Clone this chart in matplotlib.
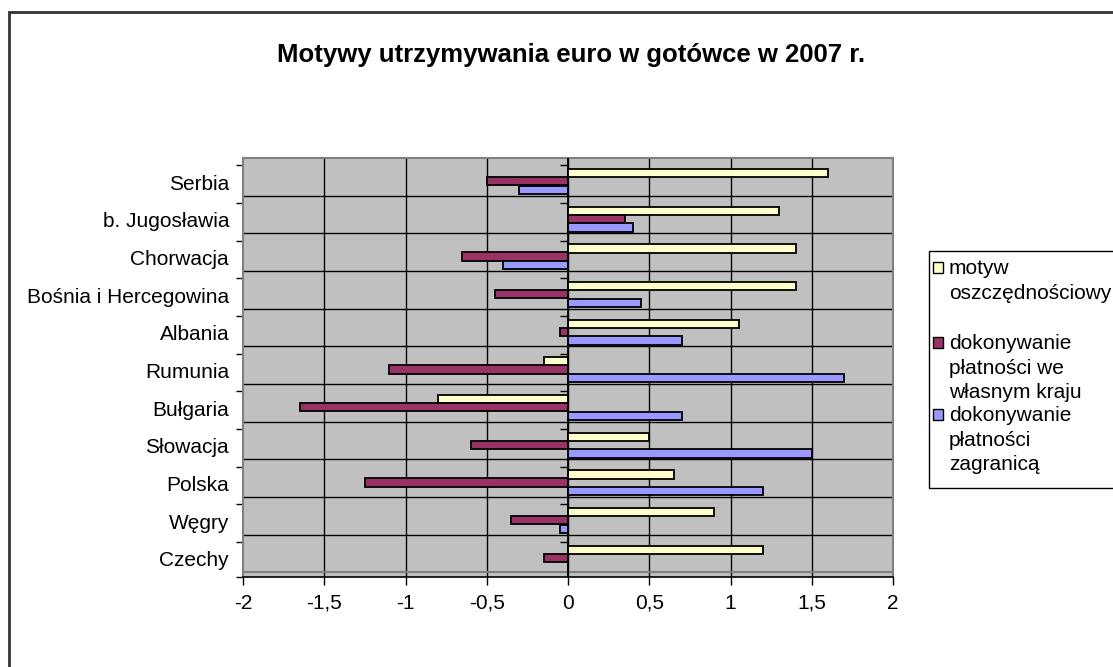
import matplotlib.pyplot as plt
import matplotlib.patches as patches
import numpy as np

# Dane (od dołu wykresu do góry)
kraje = ['Czechy', 'Węgry', 'Polska', 'Słowacja', 'Bułgaria', 'Rumunia',
         'Albania', 'Bośnia i Hercegowina', 'Chorwacja', 'b. Jugosławia', 'Serbia']
oszczednosci = [1.20, 0.90, 0.65, 0.50, -0.80, -0.15, 1.05, 1.40, 1.40, 1.30, 1.60]
platnosci_kraj = [-0.15, -0.35, -1.25, -0.60, -1.65, -1.10, -0.05, -0.45, -0.65, 0.35, -0.50]
platnosci_zagr = [0.0, -0.05, 1.20, 1.50, 0.70, 1.70, 0.70, 0.45, -0.40, 0.40, -0.30]
x_ticks = [-2, -1.5, -1, -0.5, 0, 0.5, 1, 1.5, 2]
x_labels = ['-2', '-1,5', '-1', '-0,5', '0', '0,5', '1', '1,5', '2']

legenda = ['motyw\noszczędnościowy',
           'dokonywanie\npłatności we\nwłasnym kraju',
           'dokonywanie\npłatności\nzagranicą']
kolory = ['#FFFFCC', '#993366', '#9999FF']

plt.rcParams['font.family'] = ['Liberation Sans', 'DejaVu Sans']

fig = plt.figure(figsize=(11.13, 6.67), dpi=100)
ax = fig.add_axes([243/1113, 1 - 577/667, (893-243)/1113, (577-158)/667])
ax.set_facecolor('#C0C0C0')

y = np.arange(len(kraje))
h = 0.22
ax.barh(y + 0.60, oszczednosci, height=h, color=kolory[0], edgecolor='black', lw=1.3, zorder=3)
ax.barh(y + 0.385, platnosci_kraj, height=h, color=kolory[1], edgecolor='black', lw=1.3, zorder=3)
ax.barh(y + 0.155, platnosci_zagr, height=h, color=kolory[2], edgecolor='black', lw=1.3, zorder=3)

ax.set_xlim(-2, 2)
ax.set_ylim(-0.12, 11)

# siatka
for xv in x_ticks[1:-1]:
    ax.axvline(xv, color='black', lw=1, zorder=1)
for yv in range(1, 11):
    ax.axhline(yv, color='black', lw=1, zorder=1)
ax.axhline(0, color='#808080', lw=1.5, zorder=1)
ax.axvline(0, color='black', lw=1.3, zorder=4)

tick_pos = [k - 0.19 for k in range(1, 12)] + [-0.12]
ax.hlines(tick_pos[:-1], -0.05, 0, color='black', lw=1, zorder=4)

ax.set_xticks(x_ticks)
ax.set_xticklabels(x_labels, fontsize=15)
ax.set_yticks(tick_pos)
ax.set_yticklabels([])
ax.set_yticks(y + 0.36, minor=True)
ax.set_yticklabels(kraje, minor=True, fontsize=15)
ax.tick_params(axis='y', which='major', length=5, width=1, direction='out')
ax.tick_params(axis='y', which='minor', length=0, pad=10)
ax.tick_params(axis='x', length=6, width=1, pad=6)

for s in ['top', 'right', 'left']:
    ax.spines[s].set_color('#808080')
    ax.spines[s].set_linewidth(1.5)
ax.spines['bottom'].set_color('black')
ax.spines['bottom'].set_linewidth(1.2)

fig.text(571/1113, 1 - 55/667, 'Motywy utrzymywania euro w gotówce w 2007 r.',
         ha='center', va='center', fontsize=18.5, fontweight='bold')

# ramka wykresu
fig.patches.append(patches.Rectangle((9/1113, -0.1), 1.2, 1 - 12/667 + 0.1,
                                     transform=fig.transFigure, fill=False,
                                     edgecolor='#333333', lw=2))

# legenda
fig.patches.append(patches.Rectangle((929/1113, 1 - 488/667), 0.3, (488-251)/667,
                                     transform=fig.transFigure, fill=False,
                                     edgecolor='black', lw=1))
wiersze = [268, 343, 415]
for txt, kol, yy in zip(legenda, kolory, wiersze):
    fig.patches.append(patches.Rectangle((933/1113, 1 - (yy + 5)/667), 10/1113, 11/667,
                                         transform=fig.transFigure, facecolor=kol,
                                         edgecolor='black', lw=1))
    fig.text(949/1113, 1 - (yy - 9)/667, txt, ha='left', va='top',
             fontsize=15, linespacing=1.38)

fig.savefig('out.png', dpi=100)
